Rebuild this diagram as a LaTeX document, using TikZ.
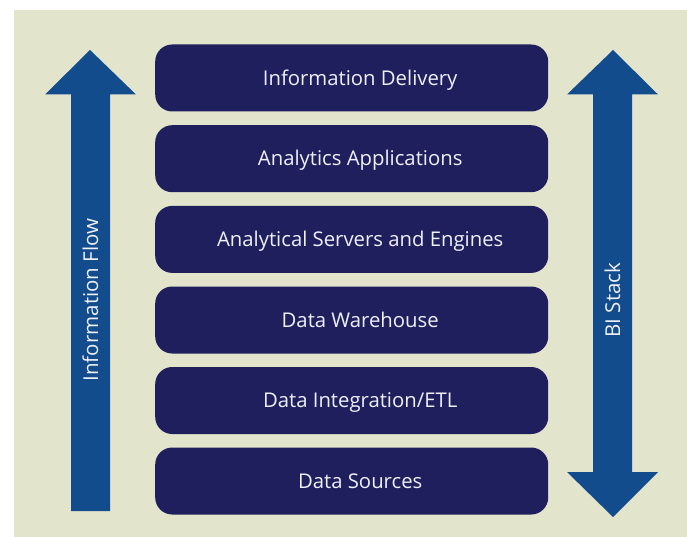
\documentclass[tikz,border=0pt]{standalone}
\usepackage{fontspec}
\setmainfont{Open Sans}
\definecolor{bgc}{HTML}{E3E4CC}
\definecolor{boxc}{HTML}{201F5E}
\definecolor{arrc}{HTML}{124C8C}
\definecolor{txtc}{HTML}{F0F0F8}
\begin{document}
\begin{tikzpicture}[x=1pt,y=-1pt,
  layer/.style={fill=boxc, rounded corners=17pt, minimum width=393pt, minimum height=67pt, inner sep=0pt, anchor=north west},
  ltext/.style={text=txtc, font=\fontsize{20.3}{22}\selectfont, anchor=base, inner sep=0pt},
  bigarrow/.style={fill=arrc},
  arrlabel/.style={text=txtc, font=\fontsize{20.5}{22}\selectfont, rotate=90}]
\useasboundingbox (0,0) rectangle (687,537);
\fill[white] (0,0) rectangle (687,537);
\fill[bgc] (14,10) rectangle (687,537);
% left arrow
\fill[bigarrow] (90,50) -- (136,94.5) -- (110,94.5) -- (110,511) -- (71,511) -- (71,94.5) -- (45,94.5) -- cycle;
\node[arrlabel] (flow) at (90.5,300) {Information Flow};
% right arrow
\fill[bigarrow] (613,50) -- (658,94.5) -- (632,94.5) -- (632,472) -- (658,472) -- (613,517) -- (567,472) -- (593,472) -- (593,94.5) -- (567,94.5) -- cycle;
\node[arrlabel] (stack) at (612.5,300) {BI Stack};
% layers
\node[layer] (l1) at (155,44.3) {};
\node[layer] (l2) at (155,125) {};
\node[layer] (l3) at (155,205.7) {};
\node[layer] (l4) at (155,286.3) {};
\node[layer] (l5) at (155,366.8) {};
\node[layer] (l6) at (155,447.3) {};
\node[ltext] (t1) at ([xshift=8.5pt,yshift=-7.3pt]l1.center) {Information Delivery};
\node[ltext] (t2) at ([xshift=8.5pt,yshift=-7.3pt]l2.center) {Analytics Applications};
\node[ltext] (t3) at ([xshift=8.5pt,yshift=-7.3pt]l3.center) {Analytical Servers and Engines};
\node[ltext] (t4) at ([xshift=8.5pt,yshift=-7.3pt]l4.center) {Data Warehouse};
\node[ltext] (t5) at ([xshift=8.5pt,yshift=-7.3pt]l5.center) {Data Integration/ETL};
\node[ltext] (t6) at ([xshift=8.5pt,yshift=-7.3pt]l6.center) {Data Sources};
\end{tikzpicture}
\end{document}
